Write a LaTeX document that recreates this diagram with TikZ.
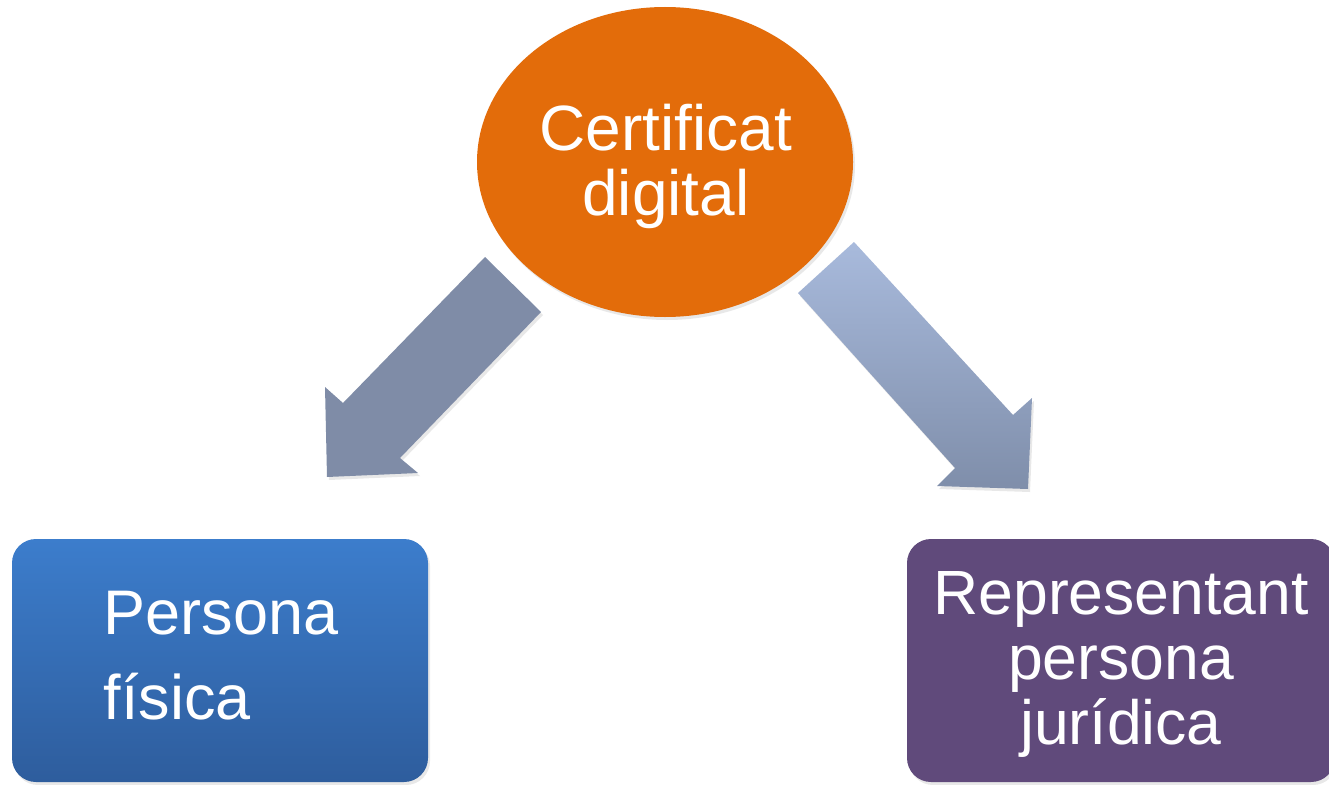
\documentclass[tikz,border=0pt]{standalone}
\usepackage{fontspec}
\setmainfont{Liberation Sans}
\usetikzlibrary{shapes.geometric,shadows}
\definecolor{certorange}{HTML}{E36C0A}
\definecolor{arrowleft}{HTML}{7F8CA7}
\definecolor{arrowtop}{HTML}{A8BADC}
\definecolor{arrowbot}{HTML}{7F8EAA}
\definecolor{bluetop}{HTML}{3C7DCC}
\definecolor{bluebot}{HTML}{2E5D9D}
\definecolor{purplebox}{HTML}{604A7B}
\tikzset{
  softshadow/.style={drop shadow={opacity=0.18, shadow xshift=2pt, shadow yshift=-3pt}},
  certnode/.style={ellipse, fill=certorange, draw=none, inner sep=0pt,
    minimum width=376pt, minimum height=310pt, softshadow},
  boxnode/.style={rectangle, rounded corners=24pt, draw=none, inner sep=0pt,
    minimum width=#1, minimum height=243pt, softshadow},
  txtnode/.style={text=white, inner sep=0pt, align=center},
  blockarrow/.style={draw=none, softshadow}
}
\begin{document}
\begin{tikzpicture}[x=1pt, y=-1pt]
\clip (0,0) rectangle (1329,784);
\fill[white] (0,0) rectangle (1329,784);
% arrows
\fill[blockarrow, fill=arrowleft]
  (485,257) -- (541,312) -- (400,458) -- (418,473) -- (327,477) -- (325,387) -- (343,403) -- cycle;
\shade[blockarrow, top color=arrowtop, bottom color=arrowbot]
  (854,242) -- (798,293) -- (955,468) -- (937,486) -- (1028,489) -- (1032,398) -- (1013,415) -- cycle;
% nodes
\node[certnode] (cert) at (665,162) {};
\node[txtnode, font=\fontsize{64}{65}\selectfont] (certtxt) at (666,166) {Certificat\\digital};
\node[boxnode=416pt, top color=bluetop, bottom color=bluebot] (pf) at (220,660.5) {};
\node[txtnode, align=left, font=\fontsize{63}{85}\selectfont] (pftxt) at (221,656) {Persona\\física};
\node[boxnode=428pt, fill=purplebox] (pj) at (1121,660.5) {};
\node[txtnode, font=\fontsize{62.5}{65}\selectfont] (pjtxt) at (1121,664.3) {Representant\\persona\\jurídica};
\end{tikzpicture}
\end{document}
